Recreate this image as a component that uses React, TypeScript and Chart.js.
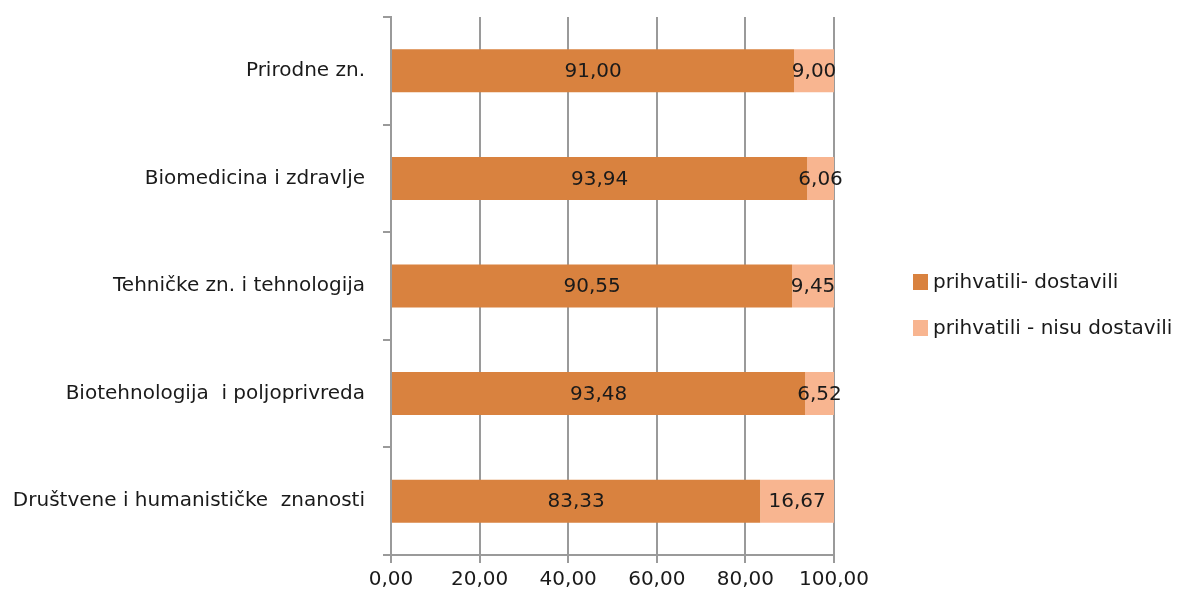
import React, { useEffect, useRef } from "react";
import { Chart, registerables } from "chart.js";

Chart.register(...registerables);

const categories = [
  "Prirodne zn.",
  "Biomedicina i zdravlje",
  "Tehničke zn. i tehnologija",
  "Biotehnologija  i poljoprivreda",
  "Društvene i humanističke  znanosti",
];
const delivered = [91.0, 93.94, 90.55, 93.48, 83.33];
const notDelivered = [9.0, 6.06, 9.45, 6.52, 16.67];
const seriesNames = ["prihvatili- dostavili", "prihvatili - nisu dostavili"];
const xTicks = [0, 20, 40, 60, 80, 100];

const DARK = "#D9823F";
const LIGHT = "#F8B590";
const GRID = "#9a9a9a";
const TEXT = "#1a1a1a";
const FONT = "'DejaVu Sans', sans-serif";
const FS = 20;

const fmt = (v: number) => v.toFixed(2).replace(".", ",");

const valueLabels = {
  id: "valueLabels",
  afterDatasetsDraw(chart: any) {
    const ctx = chart.ctx;
    ctx.save();
    ctx.font = `${FS}px ${FONT}`;
    ctx.fillStyle = TEXT;
    ctx.textAlign = "center";
    ctx.textBaseline = "middle";
    chart.data.datasets.forEach((ds: any, di: number) => {
      const meta = chart.getDatasetMeta(di);
      meta.data.forEach((el: any, i: number) => {
        const cx = (el.x + el.base) / 2;
        ctx.fillText(fmt(ds.data[i]), cx, el.y + 1);
      });
    });
    ctx.restore();
  },
};

const customLegend = {
  id: "customLegend",
  afterDraw(chart: any) {
    const ctx = chart.ctx;
    ctx.save();
    ctx.font = `${FS}px ${FONT}`;
    ctx.textBaseline = "middle";
    ctx.textAlign = "left";
    const x0 = 913;
    const ys = [282, 328];
    chart.data.datasets.forEach((ds: any, i: number) => {
      ctx.fillStyle = ds.backgroundColor;
      ctx.fillRect(x0, ys[i] - 8, 15, 16);
      ctx.fillStyle = TEXT;
      ctx.fillText(ds.label, x0 + 20, ys[i] + 1);
    });
    ctx.restore();
  },
};

export default function App() {
  const ref = useRef<HTMLCanvasElement>(null);
  useEffect(() => {
    if (!ref.current) return;
    const chart = new Chart(ref.current, {
      type: "bar",
      data: {
        labels: categories,
        datasets: [
          { label: seriesNames[0], data: delivered, backgroundColor: DARK, categoryPercentage: 0.4, barPercentage: 1 },
          { label: seriesNames[1], data: notDelivered, backgroundColor: LIGHT, categoryPercentage: 0.4, barPercentage: 1 },
        ],
      },
      options: {
        indexAxis: "y",
        animation: false,
        responsive: false,
        maintainAspectRatio: false,
        layout: { padding: { top: 17, right: 347, left: 0, bottom: 0 } },
        plugins: { legend: { display: false }, tooltip: { enabled: false } },
        scales: {
          x: {
            stacked: true,
            min: 0,
            max: 100,
            afterBuildTicks: (scale: any) => {
              scale.ticks = xTicks.map((v) => ({ value: v }));
            },
            afterFit: (scale: any) => {
              scale.height = 46;
              scale.paddingLeft = 0;
              scale.paddingRight = 0;
            },
            grid: { color: GRID, lineWidth: 2, tickLength: 8, drawTicks: true },
            border: { display: true, color: GRID, width: 2 },
            ticks: {
              color: TEXT,
              font: { family: FONT, size: FS },
              padding: 5,
              maxRotation: 0,
              callback: (v: any) => fmt(Number(v)),
            },
          },
          y: {
            stacked: true,
            afterFit: (scale: any) => {
              scale.width = 391;
              scale.paddingTop = 0;
              scale.paddingBottom = 0;
            },
            grid: { color: GRID, lineWidth: 2, drawOnChartArea: false, tickLength: 8, offset: true },
            border: { display: true, color: GRID, width: 2 },
            ticks: {
              color: TEXT,
              font: { family: FONT, size: FS },
              padding: 18,
            },
          },
        },
      },
      plugins: [valueLabels, customLegend],
    });
    return () => chart.destroy();
  }, []);
  return (
    <div style={{ position: "absolute", left: 0, top: 0, width: 1181, height: 601, background: "#fff" }}>
      <canvas ref={ref} width={1181} height={601} style={{ width: 1181, height: 601 }} />
    </div>
  );
}
